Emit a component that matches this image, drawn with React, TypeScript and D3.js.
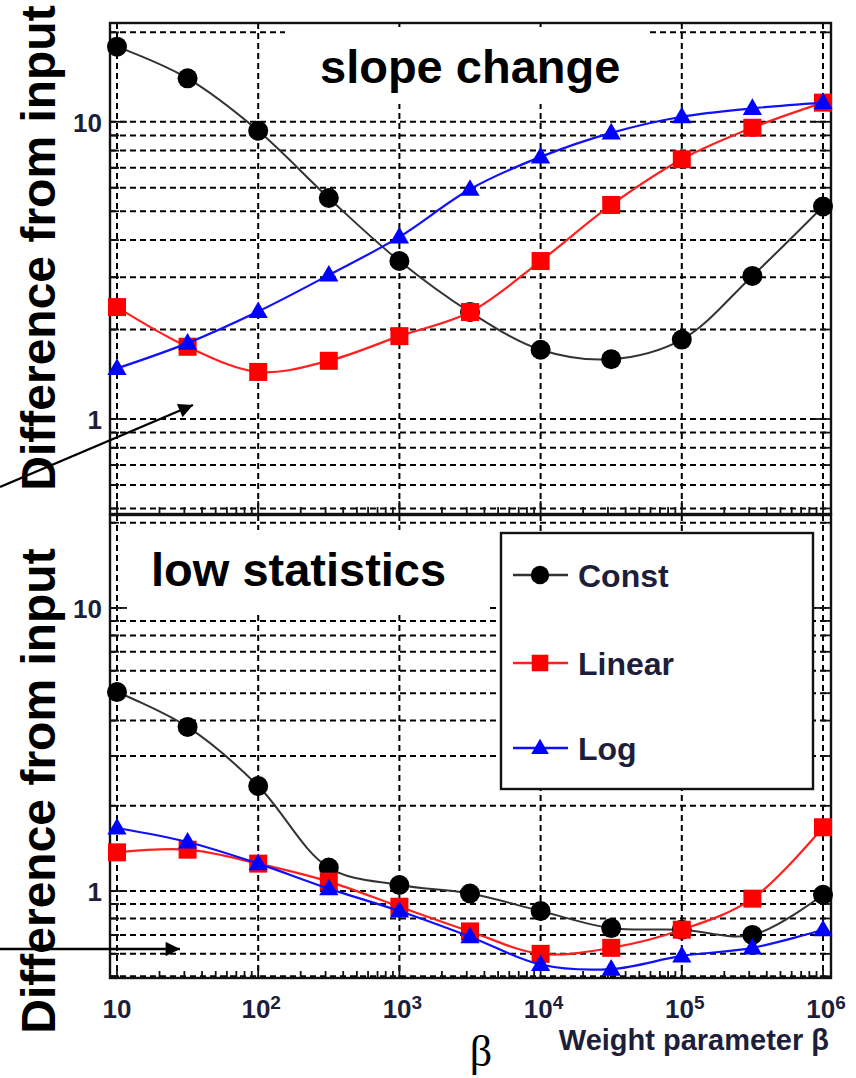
import React from 'react';
import * as d3 from 'd3';

// beta values (x), one point every half decade
const betas = [10, 31.62, 100, 316.2, 1000, 3162, 10000, 31620, 100000, 316200, 1000000];
const xTickLabels = ['', '2', '3', '4', '5', '6'];

// slope change panel
const slopeConst = [17.9, 14.0, 9.33, 5.54, 3.4, 2.29, 1.71, 1.59, 1.85, 3.03, 5.19];
const slopeLinear = [2.38, 1.75, 1.44, 1.57, 1.9, 2.29, 3.4, 5.25, 7.48, 9.55, 11.6];
const slopeLog = [1.48, 1.8, 2.3, 3.05, 4.1, 5.93, 7.62, 9.18, 10.4, 11.1, 11.6];

// low statistics panel
const lowConst = [5.05, 3.8, 2.35, 1.21, 1.05, 0.98, 0.85, 0.74, 0.73, 0.7, 0.97];
const lowLinear = [1.37, 1.4, 1.25, 1.08, 0.88, 0.72, 0.6, 0.63, 0.73, 0.94, 1.68];
const lowLog = [1.67, 1.49, 1.25, 1.02, 0.85, 0.69, 0.55, 0.53, 0.59, 0.63, 0.73];

const seriesNames = ['Const', 'Linear', 'Log'];
const seriesColors = ['#000000', '#ff0000', '#0000ff'];
const lineColors = ['#333333', '#ff2020', '#1010ff'];

const W = 856;
const H = 1078;
const frameL = 110;
const frameR = 831;
const font = 'Liberation Sans, Arial, Helvetica, sans-serif';
const tickColor = '#1c1e3a';

const x = d3.scaleLog().domain([10, 1e6]).range([117, 823]);

function Marker({ kind, cx, cy, s = 1 }: { kind: number; cx: number; cy: number; s?: number }) {
  if (kind === 0) return <circle cx={cx} cy={cy} r={10 * s} fill={seriesColors[0]} />;
  if (kind === 1) {
    const h = 9 * s;
    return <rect x={cx - h} y={cy - h} width={2 * h} height={2 * h} fill={seriesColors[1]} />;
  }
  const tri = d3.symbol().type(d3.symbolTriangle).size(160 * s * s)();
  return <path d={tri || ''} transform={`translate(${cx},${cy + 1})`} fill={seriesColors[2]} />;
}

function Panel({ top, bottom, domain, data, title, titleX, titleY, box, legend }: any) {
  const y = d3.scaleLog().domain(domain).range([bottom, top]);
  const yTicks = y.ticks();
  const xTicks = x.ticks();
  const decades = betas.filter((_, i) => i % 2 === 0);
  const line = d3
    .line<number>()
    .x((_, i) => x(betas[i]))
    .y((d) => y(d))
    .curve(d3.curveCatmullRom.alpha(0.5));

  return (
    <g>
      {/* dashed grid */}
      <g stroke="#000" strokeWidth={2} strokeDasharray="6,4">
        {yTicks.map((t) => (
          <line key={'h' + t} x1={frameL} x2={frameR} y1={y(t)} y2={y(t)} />
        ))}
        {decades.map((t) => (
          <line key={'v' + t} x1={x(t)} x2={x(t)} y1={top} y2={bottom} />
        ))}
      </g>
      {/* white title box */}
      <rect x={box[0]} y={box[1]} width={box[2]} height={box[3]} fill="#fff" />
      <text x={titleX} y={titleY} fontFamily={font} fontWeight="bold" fontSize={47} fill="#000">
        {title}
      </text>
      {/* ticks */}
      <g stroke="#111" strokeWidth={1.8}>
        {yTicks.map((t) => {
          const major = Math.abs(Math.log10(t) - Math.round(Math.log10(t))) < 1e-6;
          const len = major ? 17 : 9;
          return (
            <g key={'yt' + t}>
              <line x1={frameL} x2={frameL + len} y1={y(t)} y2={y(t)} />
              <line x1={frameR} x2={frameR - len} y1={y(t)} y2={y(t)} />
            </g>
          );
        })}
        {xTicks.map((t) => {
          const major = Math.abs(Math.log10(t) - Math.round(Math.log10(t))) < 1e-6;
          return <line key={'xt' + t} x1={x(t)} x2={x(t)} y1={bottom} y2={bottom - (major ? 13 : 7)} />;
        })}
      </g>
      {/* frame */}
      <rect x={frameL} y={top} width={frameR - frameL} height={bottom - top} fill="none" stroke="#111" strokeWidth={2.4} />
      {/* y tick labels */}
      {yTicks
        .filter((t) => t === 1 || t === 10)
        .map((t) => (
          <text
            key={'yl' + t}
            x={102}
            y={y(t) + 10}
            textAnchor="end"
            fontFamily={font}
            fontWeight="bold"
            fontSize={26}
            fill={tickColor}
          >
            {t}
          </text>
        ))}
      {/* curves and markers */}
      {data.map((ys: number[], k: number) => (
        <g key={'s' + k}>
          <path d={line(ys) || ''} fill="none" stroke={lineColors[k]} strokeWidth={k === 0 ? 2 : 2.2} />
          {ys.map((v, i) => (
            <Marker key={i} kind={k} cx={x(betas[i])} cy={y(v)} />
          ))}
        </g>
      ))}
      {legend && (
        <g>
          <rect x={501} y={533} width={312} height={256} fill="#fff" stroke="#111" strokeWidth={2.4} />
          {seriesNames.map((n, k) => {
            const ly = [575, 663, 748][k];
            return (
              <g key={n}>
                <line x1={513} x2={568} y1={ly} y2={ly} stroke={lineColors[k]} strokeWidth={2.4} />
                <Marker kind={k} cx={540} cy={ly} s={0.92} />
                <text x={578} y={ly + 12} fontFamily={font} fontWeight="bold" fontSize={32} fill={tickColor}>
                  {n}
                </text>
              </g>
            );
          })}
        </g>
      )}
    </g>
  );
}

export default function App() {
  const decades = betas.filter((_, i) => i % 2 === 0);
  return (
    <svg width={W} height={H} style={{ position: 'absolute', left: 0, top: 0, background: '#fff' }}>
      <defs>
        <marker id="ah" viewBox="0 0 10 10" refX="10" refY="5" markerWidth="7" markerHeight="6" orient="auto" markerUnits="strokeWidth">
          <path d="M0,0 L10,5 L0,10 z" fill="#000" />
        </marker>
      </defs>
      <rect x={0} y={0} width={W} height={H} fill="#fff" />
      <Panel
        top={23}
        bottom={514}
        domain={[0.479, 21.5]}
        data={[slopeConst, slopeLinear, slopeLog]}
        title="slope change"
        titleX={320}
        titleY={83}
        box={[285, 27, 362, 77]}
      />
      <Panel
        top={515}
        bottom={978}
        domain={[0.493, 21.3]}
        data={[lowConst, lowLinear, lowLog]}
        title="low statistics"
        titleX={151}
        titleY={586}
        box={[122, 530, 368, 84]}
        legend
      />
      {/* x tick labels */}
      {decades.map((t, i) => (
        <text
          key={'xl' + t}
          x={x(t) + (i === 0 ? 0 : 3)}
          y={1018}
          textAnchor="middle"
          fontFamily={font}
          fontWeight="bold"
          fontSize={26}
          fill={tickColor}
        >
          10
          {xTickLabels[i] && (
            <tspan dy={-9} fontSize={19}>
              {xTickLabels[i]}
            </tspan>
          )}
        </text>
      ))}
      <text x={829} y={1050} textAnchor="end" fontFamily={font} fontWeight="bold" fontSize={29} fill={tickColor}>
        Weight parameter β
      </text>
      <text x={481} y={1066} textAnchor="middle" fontFamily="Liberation Serif, Times New Roman, serif" fontSize={44} fill="#000">
        β
      </text>
      {/* y axis titles */}
      <text
        transform="translate(55,248) rotate(-90)"
        textAnchor="middle"
        fontFamily={font}
        fontWeight="bold"
        fontSize={48}
        fill="#000"
      >
        Difference from input
      </text>
      <text
        transform="translate(55,791) rotate(-90)"
        textAnchor="middle"
        fontFamily={font}
        fontWeight="bold"
        fontSize={48}
        fill="#000"
      >
        Difference from input
      </text>
      {/* arrows */}
      <line x1={0} y1={487} x2={193} y2={405} stroke="#000" strokeWidth={2.4} markerEnd="url(#ah)" />
      <line x1={0} y1={949} x2={180} y2={949} stroke="#000" strokeWidth={2.4} markerEnd="url(#ah)" />
    </svg>
  );
}
